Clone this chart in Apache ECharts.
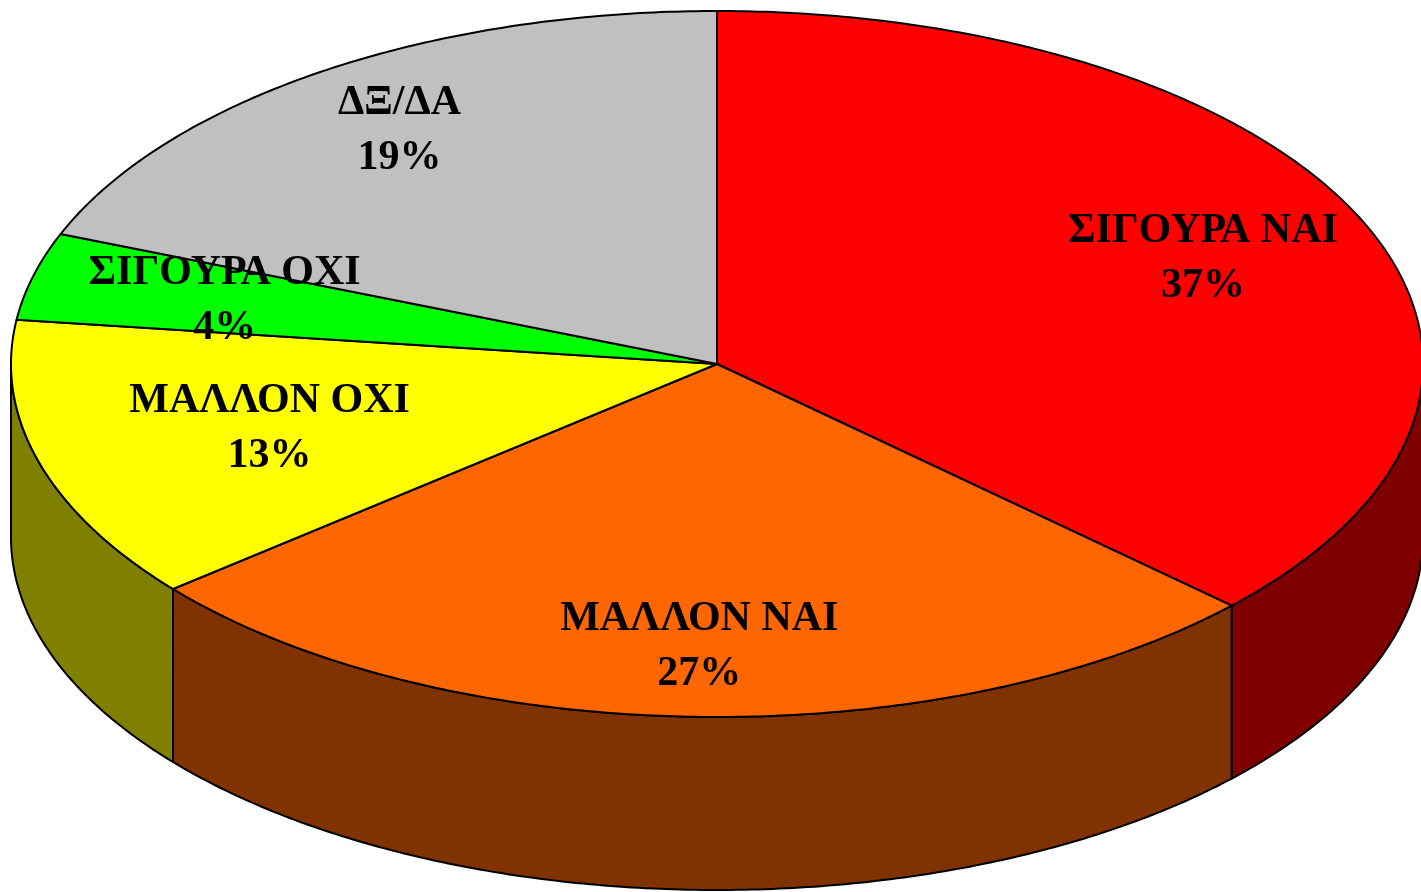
<!DOCTYPE html>
<html>
<head>
<meta charset="utf-8">
<script src="https://cdn.jsdelivr.net/npm/echarts@6/dist/echarts.min.js"></script>
<style>
  html, body { margin: 0; padding: 0; background: #fff; }
  #chart { width: 1421px; height: 892px; }
</style>
</head>
<body>
<div id="chart"></div>
<script>
const categories = ['ΣΙΓΟΥΡΑ ΝΑΙ', 'ΜΑΛΛΟΝ ΝΑΙ', 'ΜΑΛΛΟΝ ΟΧΙ', 'ΣΙΓΟΥΡΑ ΟΧΙ', 'ΔΞ/ΔΑ']
const values = [37, 27, 13, 4, 19]

const topColors = ['#ff0000', '#ff6600', '#ffff00', '#00ff00', '#c0c0c0']
const sideColors = ['#800000', '#803300', '#808000', '#008000', '#606060']
// how far out (fraction of radius) each label sits
const labelRadius = [0.75, 0.80, 0.66, 0.72, 0.80]

// tilted pie: top ellipse + visible front wall
const pie = { cx: 717, cy: 364, rx: 706, ry: 353, depth: 173 }

const total = values.reduce((a, b) => a + b, 0)
const starts = []
let acc = 0
values.forEach(v => { starts.push(acc / total * Math.PI * 2); acc += v })

// angle measured clockwise from 12 o'clock
function rim(t, dy) {
  return [pie.cx + pie.rx * Math.sin(t), pie.cy - pie.ry * Math.cos(t) + (dy || 0)]
}

function arc(a, b, dy) {
  const n = Math.max(2, Math.ceil((b - a) / 0.01))
  const pts = []
  for (let i = 0; i <= n; i++) pts.push(rim(a + (b - a) * i / n, dy))
  return pts
}

function renderSlice(params, api) {
  const i = params.dataIndex
  const a = starts[i]
  const b = a + api.value(0) / total * Math.PI * 2
  const children = []

  // side wall, only the front half shows
  const fa = Math.max(a, Math.PI / 2)
  const fb = Math.min(b, Math.PI * 1.5)
  if (fb > fa) {
    const upper = arc(fa, fb, 0)
    const lower = arc(fa, fb, pie.depth).reverse()
    children.push({
      type: 'polygon',
      shape: { points: upper.concat(lower) },
      style: { fill: sideColors[i], stroke: '#000', lineWidth: 2, lineJoin: 'round' }
    })
  }

  children.push({
    type: 'polygon',
    shape: { points: [[pie.cx, pie.cy]].concat(arc(a, b, 0)) },
    style: { fill: topColors[i], stroke: '#000', lineWidth: 2, lineJoin: 'round' }
  })

  const mid = (a + b) / 2
  const f = labelRadius[i]
  children.push({
    type: 'text',
    x: pie.cx + f * pie.rx * Math.sin(mid),
    y: pie.cy - f * pie.ry * Math.cos(mid),
    z2: 100,
    style: {
      text: categories[i] + '\n' + api.value(0) + '%',
      fill: '#000',
      fontFamily: '"Liberation Serif", "Times New Roman", serif',
      fontWeight: 'bold',
      fontSize: 42,
      lineHeight: 55,
      align: 'center',
      verticalAlign: 'middle'
    }
  })

  return { type: 'group', children }
}

const chart = echarts.init(document.getElementById('chart'))
chart.setOption({
  animation: false,
  series: [{
    type: 'custom',
    coordinateSystem: 'none',
    silent: true,
    renderItem: renderSlice,
    data: values.map((v, i) => ({ name: categories[i], value: v }))
  }]
})

window.addEventListener('resize', () => chart.resize())
</script>
</body>
</html>
